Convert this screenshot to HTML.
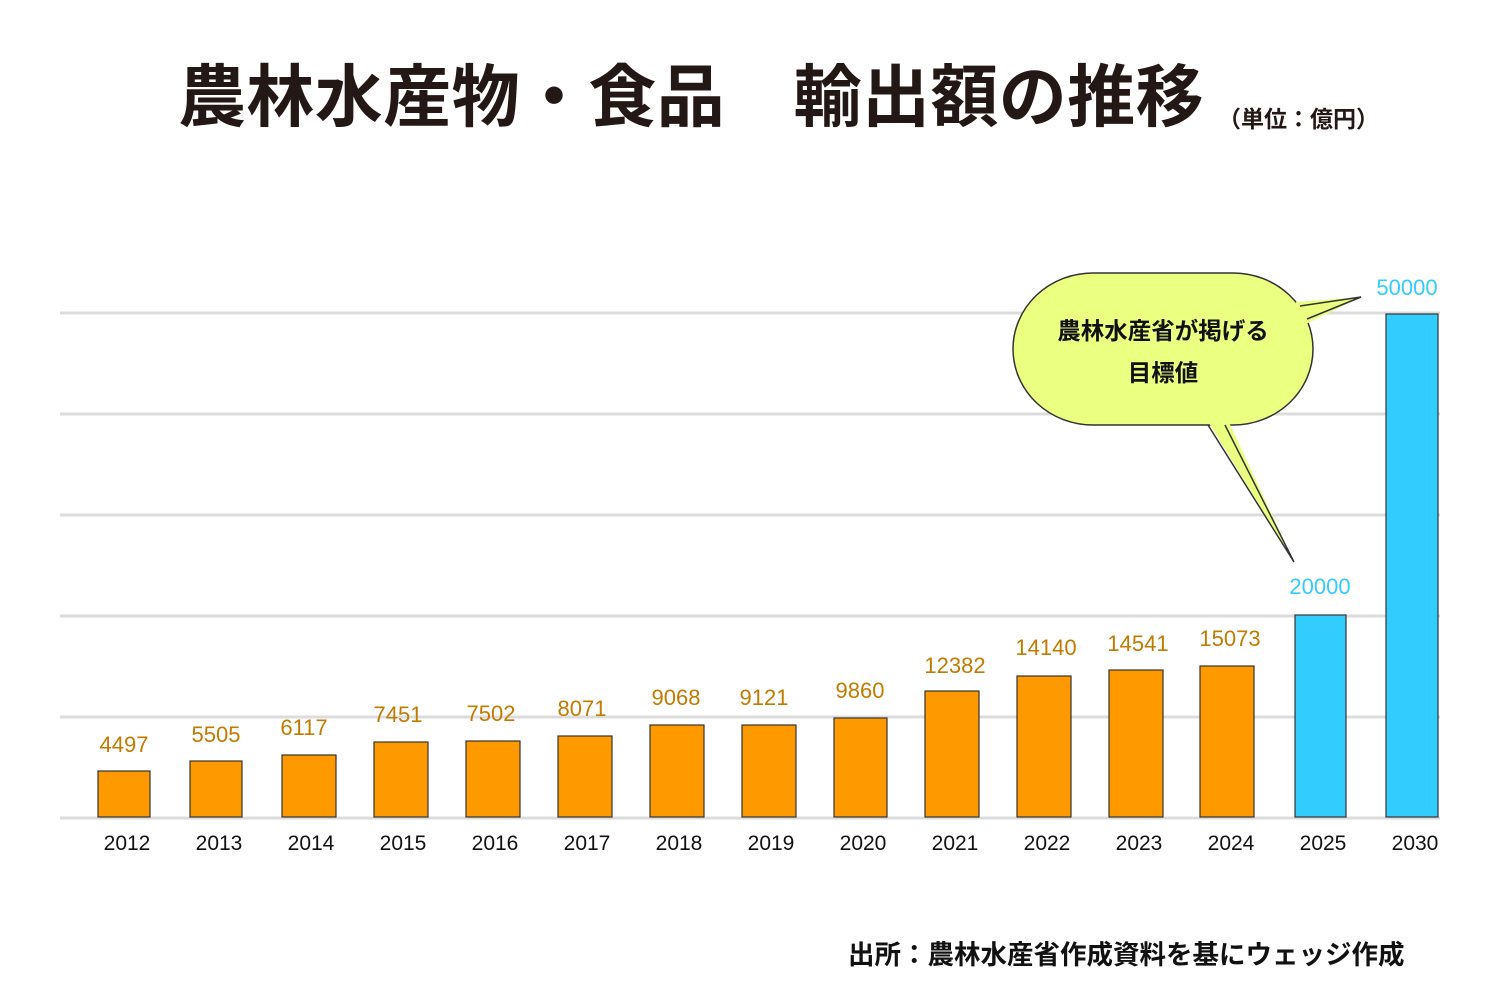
<!DOCTYPE html>
<html><head><meta charset="utf-8"><style>
html,body{margin:0;padding:0;background:#fff;}
svg{display:block;font-family:"Liberation Sans","Noto Sans CJK JP",sans-serif;}
</style></head><body>
<svg width="1500" height="1000" viewBox="0 0 1500 1000" xmlns="http://www.w3.org/2000/svg">
<rect width="1500" height="1000" fill="#fff"/>
<text x="178" y="121" font-size="68" font-weight="bold" fill="#231815" letter-spacing="0.4" font-family="'Noto Sans CJK JP',sans-serif">農林水産物・食品　輸出額の推移</text>
<text x="1218" y="127" font-size="23" font-weight="bold" fill="#231815" font-family="'Noto Sans CJK JP',sans-serif">（単位：億円）</text>
<g stroke="#dcdcdc" stroke-width="3">
<line x1="60" x2="1440" y1="313" y2="313"/>
<line x1="60" x2="1440" y1="414" y2="414"/>
<line x1="60" x2="1440" y1="515" y2="515"/>
<line x1="60" x2="1440" y1="616" y2="616"/>
<line x1="60" x2="1440" y1="717" y2="717"/>
<line x1="60" x2="1440" y1="818" y2="818"/>
</g>
<g stroke="#333" stroke-width="1.2">
<rect x="98" y="771" width="52" height="46" fill="#ff9900"/>
<rect x="190" y="761" width="52" height="56" fill="#ff9900"/>
<rect x="282" y="755" width="54" height="62" fill="#ff9900"/>
<rect x="374" y="742" width="54" height="75" fill="#ff9900"/>
<rect x="466" y="741" width="54" height="76" fill="#ff9900"/>
<rect x="558" y="736" width="54" height="81" fill="#ff9900"/>
<rect x="650" y="725" width="54" height="92" fill="#ff9900"/>
<rect x="742" y="725" width="54" height="92" fill="#ff9900"/>
<rect x="834" y="718" width="53" height="99" fill="#ff9900"/>
<rect x="925" y="691" width="54" height="126" fill="#ff9900"/>
<rect x="1017" y="676" width="54" height="141" fill="#ff9900"/>
<rect x="1109" y="670" width="54" height="147" fill="#ff9900"/>
<rect x="1200" y="666" width="54" height="151" fill="#ff9900"/>
<rect x="1295" y="615" width="51" height="202" fill="#33ccff"/>
<rect x="1386" y="314" width="52" height="503" fill="#33ccff"/>
</g>
<g font-size="22" fill="#c27a00" text-anchor="middle">
<text x="124" y="752">4497</text>
<text x="216" y="742">5505</text>
<text x="304" y="735">6117</text>
<text x="398" y="722">7451</text>
<text x="491" y="721">7502</text>
<text x="582" y="716">8071</text>
<text x="676" y="705">9068</text>
<text x="764" y="705">9121</text>
<text x="860" y="698">9860</text>
<text x="955" y="673">12382</text>
<text x="1046" y="655">14140</text>
<text x="1138" y="651">14541</text>
<text x="1230" y="646">15073</text>
<text x="1320" y="594" fill="#33ccff">20000</text>
<text x="1407" y="295" fill="#33ccff">50000</text>
</g>
<g font-size="21" fill="#111" text-anchor="middle">
<text x="127" y="850">2012</text><text x="219" y="850">2013</text><text x="311" y="850">2014</text>
<text x="403" y="850">2015</text><text x="495" y="850">2016</text><text x="587" y="850">2017</text>
<text x="679" y="850">2018</text><text x="771" y="850">2019</text><text x="863" y="850">2020</text>
<text x="955" y="850">2021</text><text x="1047" y="850">2022</text><text x="1139" y="850">2023</text>
<text x="1231" y="850">2024</text><text x="1323" y="850">2025</text><text x="1415" y="850">2030</text>
</g>
<rect x="1013" y="273" width="300" height="152" rx="80" ry="76" fill="#ebff80" stroke="#333" stroke-width="1.5"/>
<polygon points="1296,302 1361,297 1306,324 1290,330" fill="#ebff80"/>
<polyline points="1300,306 1361,297 1307,319" fill="none" stroke="#333" stroke-width="1.5"/>
<polygon points="1206,418 1294,562 1227,418" fill="#ebff80"/>
<polyline points="1208,425 1294,562 1225,425" fill="none" stroke="#333" stroke-width="1.5"/>
<g font-size="23.5" font-weight="bold" fill="#111" text-anchor="middle" font-family="'Noto Sans CJK JP',sans-serif">
<text x="1163" y="339">農林水産省が掲げる</text>
<text x="1163" y="381">目標値</text>
</g>
<text x="848" y="964" font-size="26.5" font-weight="bold" fill="#111" font-family="'Noto Sans CJK JP',sans-serif">出所：農林水産省作成資料を基にウェッジ作成</text>
</svg>
</body></html>
